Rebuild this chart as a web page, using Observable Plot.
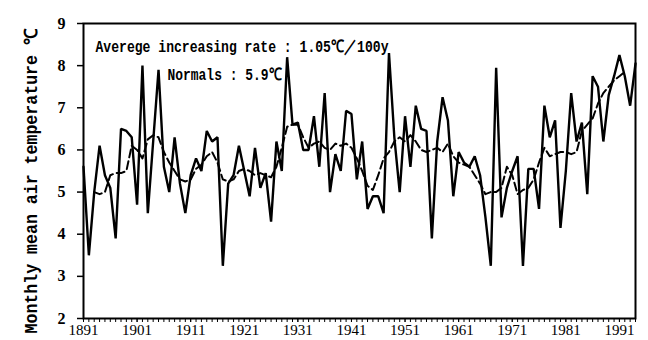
<!DOCTYPE html>
<html><head><meta charset="utf-8">
<script src="https://cdn.jsdelivr.net/npm/d3@7"></script>
<script src="https://cdn.jsdelivr.net/npm/@observablehq/plot@0.6"></script>
<style>body{margin:0;background:#fff}</style>
</head><body><div id="chart"></div>
<script>
// Annual mean values, 1891–1994
const annualYears = d3.range(1891, 1995);
const annualValues = [
  5.6, 3.5, 5.0, 6.1, 5.4, 5.1, 3.9, 6.5, 6.45, 6.3,
  4.7, 8.0, 4.5, 6.2, 7.9, 5.6, 5.0, 6.3, 5.2, 4.5,
  5.4, 5.8, 5.5, 6.45, 6.2, 6.3, 3.25, 5.2, 5.4, 6.1,
  5.5, 4.9, 6.05, 5.1, 5.45, 4.3, 6.2, 5.5, 8.2, 6.6,
  6.65, 6.0, 6.0, 6.8, 5.6, 7.35, 5.0, 5.9, 5.5, 6.93,
  6.85, 5.3, 6.2, 4.6, 4.9, 4.9, 4.5, 8.3, 6.3, 5.0,
  6.8, 5.6, 7.05, 6.5, 6.45, 3.9, 6.2, 7.25, 6.7, 4.9,
  5.95, 5.7, 5.6, 5.85, 5.4, 4.4, 3.25, 7.95, 4.4, 5.1,
  5.5, 5.85, 3.25, 5.55, 5.55, 4.6, 7.05, 6.3, 6.7, 4.15,
  5.5, 7.35, 6.2, 6.65, 4.95, 7.75, 7.5, 6.2, 7.3, 7.75,
  8.25, 7.75, 7.05, 8.05
];
// Running mean (dashed), 1893–1992
const meanYears = d3.range(1893, 1993);
const meanValues = [
  5.0, 4.95, 5.0, 5.4, 5.45, 5.45, 5.5, 6.1, 6.0, 5.8,
  6.25, 6.35, 6.3, 5.95, 5.7, 5.5, 5.3, 5.25, 5.3, 5.55,
  5.65, 5.85, 5.95, 5.7, 5.3, 5.25, 5.3, 5.5, 5.55, 5.5,
  5.4, 5.45, 5.4, 5.35, 5.6, 6.05, 6.55, 6.6, 6.6, 6.3,
  6.05, 6.15, 6.2, 6.05, 6.0, 6.15, 6.1, 6.15, 6.05, 5.8,
  5.5, 5.15, 5.05, 5.4, 5.8, 5.95, 6.2, 6.3, 6.2, 6.35,
  6.2, 6.0, 5.95, 6.0, 6.05, 5.95, 6.15, 5.85, 5.7, 5.65,
  5.6, 5.4, 5.2, 4.95, 5.0, 5.0, 5.1, 5.6, 5.4, 4.95,
  5.05, 5.1, 5.3, 5.7, 6.05, 5.85, 5.9, 5.95, 5.95, 5.9,
  5.95, 6.45, 6.6, 6.75, 7.1, 7.35, 7.5, 7.65, 7.75, 7.85
];
const xTickLabels = [1891, 1901, 1911, 1921, 1931, 1941, 1951, 1961, 1971, 1981, 1991];
const yTickLabels = [2, 3, 4, 5, 6, 7, 8, 9];
const yLabel = "Monthly mean air temperature ℃";
const noteRate = "Averege increasing rate : 1.05℃／100y";
const noteNormals = "Normals : 5.9℃";

const annual = annualYears.map((y, i) => ({year: y, value: annualValues[i]}));
const running = meanYears.map((y, i) => ({year: y, value: meanValues[i]}));

const mono = "'Liberation Mono', 'DejaVu Sans Mono', monospace";
const serif = "'Liberation Serif', 'DejaVu Serif', serif";

const chart = Plot.plot({
  width: 648, height: 340,
  marginLeft: 83, marginRight: 13, marginTop: 23, marginBottom: 22,
  style: {background: "#fff", color: "#000", fontFamily: serif},
  x: {domain: [1891, 1994], label: null},
  y: {domain: [2, 9], label: null},
  marks: [
    Plot.axisX({ticks: annualYears, tickSize: 4, tickFormat: () => "", label: null, strokeWidth: 1}),
    Plot.axisX({ticks: xTickLabels, tickSize: 4, tickPadding: 2, tickFormat: d => String(d), fontSize: 15, label: null}),
    Plot.axisY({ticks: yTickLabels, tickSize: 6, tickPadding: 12, tickFormat: d => String(d), fontSize: 16, label: null, strokeWidth: 1.5}),
    Plot.frame({stroke: "#000", strokeWidth: 2}),
    Plot.line(running, {x: "year", y: "value", stroke: "#000", strokeWidth: 2, strokeDasharray: "8,4"}),
    Plot.line(annual, {x: "year", y: "value", stroke: "#000", strokeWidth: 2.4, strokeLinejoin: "miter"}),
    Plot.text([noteRate], {text: d => d, frameAnchor: "top-left", dx: 12, dy: 23, textAnchor: "start", lineAnchor: "middle", fontFamily: mono, fontWeight: "bold", fontSize: 17, fill: "#000"}),
    Plot.text([noteNormals], {text: d => d, frameAnchor: "top-left", dx: 84, dy: 51, textAnchor: "start", lineAnchor: "middle", fontFamily: mono, fontWeight: "bold", fontSize: 17, fill: "#000"}),
    Plot.text([yLabel], {text: d => d, frameAnchor: "left", dx: -52, dy: 10, rotate: -90, textAnchor: "middle", lineAnchor: "middle", fontFamily: mono, fontWeight: "bold", fontSize: 18, fill: "#000"})
  ]
});
document.getElementById("chart").appendChild(chart);

// Condense text to match the narrow typewriter-style fonts of the original
const svg = d3.select(chart);
svg.selectAll("text").each(function() {
  const t = this.textContent;
  const s = d3.select(this);
  if (t === noteRate) s.attr("textLength", 293).attr("lengthAdjust", "spacingAndGlyphs");
  else if (t === noteNormals) s.attr("textLength", 114).attr("lengthAdjust", "spacingAndGlyphs");
  else if (t === yLabel) s.attr("textLength", 305).attr("lengthAdjust", "spacingAndGlyphs");
  else if (/^\d{4}$/.test(t)) s.attr("textLength", 30).attr("lengthAdjust", "spacingAndGlyphs");
  else if (/^\d$/.test(t)) s.attr("font-weight", "bold");
});
</script>
</body></html>
